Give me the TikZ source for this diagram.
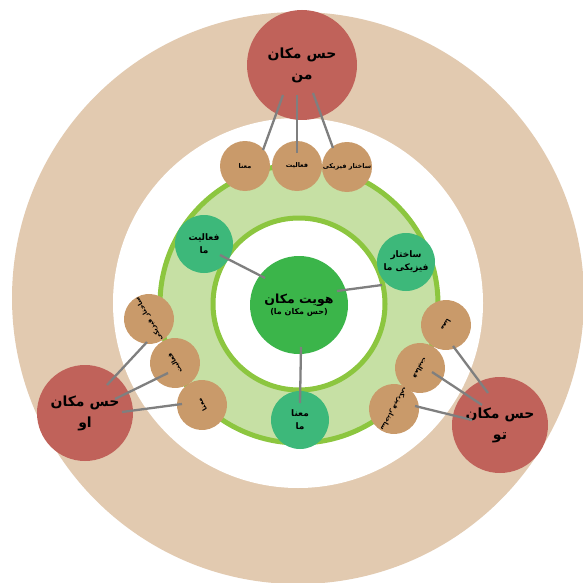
\documentclass[tikz,border=0pt]{standalone}
\usepackage{fontspec}
\usetikzlibrary{calc}
\TeXXeTstate=1
\newfontfamily\fa[Script=Arabic]{DejaVu Sans}
\newcommand{\rl}[1]{\beginR #1\endR}
\definecolor{tanc}{HTML}{E2CAB0}
\definecolor{ringfill}{HTML}{C6E0A4}
\definecolor{ringline}{HTML}{8CC63F}
\definecolor{coregreen}{HTML}{3BB54A}
\definecolor{subgreen}{HTML}{3DB87A}
\definecolor{brownc}{HTML}{C99A6A}
\definecolor{redc}{HTML}{C0625A}
\definecolor{linkgray}{HTML}{7F7F7F}
\begin{document}
\begin{tikzpicture}[x=1pt,y=-1pt,
  base/.style={circle,inner sep=0pt,align=center,text=black},
  sense/.style={base,fill=redc,minimum size=#1,font=\fa\bfseries\fontsize{14}{21}\selectfont},
  item/.style={base,fill=brownc,minimum size=50pt,font=\fa\bfseries\fontsize{6.5}{8}\selectfont},
  sub/.style={base,fill=subgreen,minimum size=58pt,font=\fa\bfseries\fontsize{9}{13}\selectfont},
  core/.style={base,fill=coregreen,minimum size=98pt},
  link/.style={draw=linkgray,line width=2.3pt}]
\useasboundingbox (0,0) rectangle (583,583);
\fill[white] (0,0) rectangle (583,583);
% rings
\fill[tanc] (298,298) circle (286pt);
\fill[white] (298,303) circle (185pt);
\draw[ringline,line width=5pt,fill=ringfill] (299,304) circle (139pt);
\draw[ringline,line width=5pt,fill=white] (299,304) circle (86pt);
% sense-of-place circles
\node[sense=110pt] (rT) at (302,65) {\rl{حس مکان}\\\rl{من}};
\node[sense=96pt] (rL) at (85,413) {\rl{حس مکان}\\\rl{او}};
\node[sense=96pt] (rR) at (500,425) {\rl{حس مکان}\\\rl{تو}};
% item circles
\node[item] (t1) at (245,166) {\rl{معنا}};
\node[item] (t2) at (297,166) {\rl{فعالیت}};
\node[item] (t3) at (347,167) {\rl{ساختار فیزیکی}};
\node[item,rotate=120] (l1) at (149,319) {\rl{ساختار فیزیکی}};
\node[item,rotate=120] (l2) at (175,363) {\rl{فعالیت}};
\node[item,rotate=120] (l3) at (202,405) {\rl{معنا}};
\node[item,rotate=-120] (q1) at (446,325) {\rl{معنا}};
\node[item,rotate=-120] (q2) at (420,368) {\rl{فعالیت}};
\node[item,rotate=-120] (q3) at (394,409) {\rl{ساختار فیزیکی}};
% core and sub circles
\node[core] (c) at (299,305) {{\fa\bfseries\fontsize{12.5}{16}\selectfont\rl{هویت مکان}}\\[-1pt]{\fa\bfseries\fontsize{8}{10}\selectfont\rl{(حس مکان ما)}}};
\node[sub] (g1) at (204,244) {\rl{فعالیت}\\\rl{ما}};
\node[sub] (g2) at (406,262) {\rl{ساختار}\\\rl{فیزیکی ما}};
\node[sub] (g3) at (300,420) {\rl{معنا}\\\rl{ما}};
% connector start points
\coordinate (sT1) at (283,95);
\coordinate (sT2) at (297,95);
\coordinate (sT3) at (313,93);
\coordinate (sL1) at (107,385);
\coordinate (sL2) at (115,399);
\coordinate (sL3) at (122,412);
\coordinate (sR1) at (488,393);
\coordinate (sR2) at (482,405);
\coordinate (sR3) at (472,420);
\coordinate (sC1) at (265,278);
\coordinate (sC2) at (337,291);
\coordinate (sC3) at (301,347);
% connectors
\draw[link] (sT1) -- ($(t1)+(18,-16)$);
\draw[link] (sT2) -- ($(t2)+(0,-13)$);
\draw[link] (sT3) -- ($(t3)+(-14,-19)$);
\draw[link] (sL1) -- ($(l1)+(-2,23)$);
\draw[link] (sL2) -- ($(l2)+(-7,10)$);
\draw[link] (sL3) -- ($(l3)+(-20,-1)$);
\draw[link] (sR1) -- ($(q1)+(7,21)$);
\draw[link] (sR2) -- ($(q2)+(12,4)$);
\draw[link] (sR3) -- ($(q3)+(21,-3)$);
\draw[link] (sC1) -- ($(g1)+(16,11)$);
\draw[link] (sC2) -- ($(g2)+(-24,23)$);
\draw[link] (sC3) -- ($(g3)+(0,-17)$);
\end{tikzpicture}
\end{document}
